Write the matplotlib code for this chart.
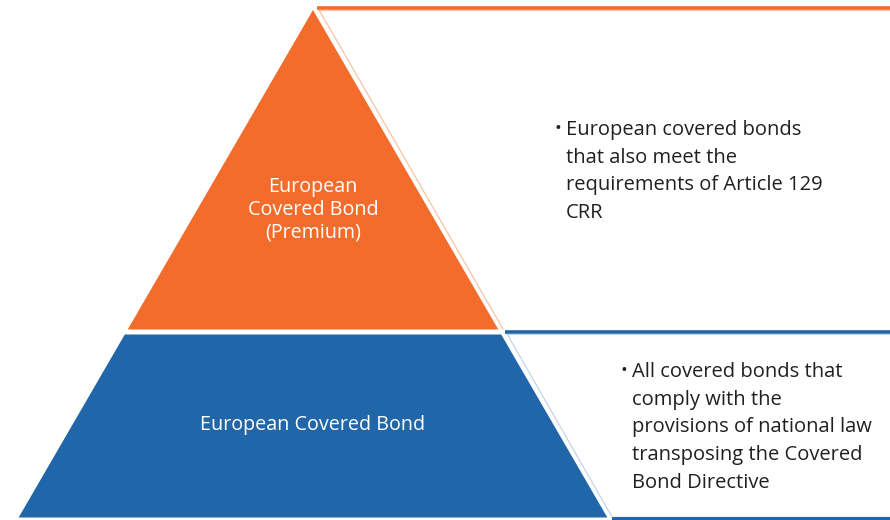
import matplotlib.pyplot as plt
from matplotlib.patches import Polygon

plt.rcParams['font.family'] = ['Open Sans', 'DejaVu Sans']

# pyramid levels, top to bottom
levels = ["European\nCovered Bond\n(Premium)", "European Covered Bond"]
level_colors = ["#F36C2C", "#2166A8"]
level_light = ["#F9C3A6", "#C2D6EA"]
descriptions = [
    ["European covered bonds", "that also meet the", "requirements of Article 129", "CRR"],
    ["All covered bonds that", "comply with the", "provisions of national law",
     "transposing the Covered", "Bond Directive"],
]

W, H = 890, 520
fig = plt.figure(figsize=(W / 100, H / 100), dpi=100)
ax = fig.add_axes([0, 0, 1, 1])
ax.set_xlim(0, W)
ax.set_ylim(H, 0)
ax.axis('off')

apex_x, apex_y = 313, 10
slope = 0.58           # half-width growth per pixel of height
splits = [(apex_y, 329.5), (334.5, 517.5)]   # y ranges of each level
gap_off = 5            # offset of the thin outline line on the right

def half(y):
    return (y - apex_y) * slope

for (y0, y1), col, light in zip(splits, level_colors, level_light):
    pts = [(apex_x - half(y0), y0), (apex_x + half(y0), y0),
           (apex_x + half(y1), y1), (apex_x - half(y1), y1)]
    ax.add_patch(Polygon(pts, closed=True, facecolor=col, edgecolor='none'))
    # thin light line parallel to the right edge
    ax.plot([apex_x + half(y0) + gap_off, apex_x + half(y1) + gap_off], [y0 - 2, y1],
            color=light, lw=0.9, solid_capstyle='butt')
    # heavy bar across the top of the description box
    bar_y = y0 - 3 if y0 > apex_y else 7.5
    ax.plot([apex_x + half(y0) + gap_off - 1, W], [bar_y, bar_y], color=col, lw=2.6,
            solid_capstyle='butt')
    ax.plot([apex_x + half(y0) + gap_off, W], [bar_y + 2.2, bar_y + 2.2], color=light, lw=0.8,
            solid_capstyle='butt')

# bottom bar of the lower box
ax.plot([apex_x + half(517.5) + gap_off, W], [518.5, 518.5], color=level_colors[1], lw=3,
        solid_capstyle='butt')

# labels inside the pyramid
ax.text(apex_x, 210, levels[0], color='white', fontsize=14.2, ha='center', va='center',
        linespacing=1.18)
ax.text(apex_x, 425, levels[1], color='white', fontsize=14.2, ha='center', va='center')

# bullet descriptions
txt = "#231F20"
starts = [(566, 135), (632, 377)]
pitch = 27.7
for (x0, b0), lines in zip(starts, descriptions):
    ax.text(x0 - 11.5, b0 - 1, "•", color=txt, fontsize=13, ha='left', va='baseline')
    for i, line in enumerate(lines):
        ax.text(x0, b0 + i * pitch, line, color=txt, fontsize=14.5, ha='left',
                va='baseline')

fig.savefig("out.png", dpi=100)
